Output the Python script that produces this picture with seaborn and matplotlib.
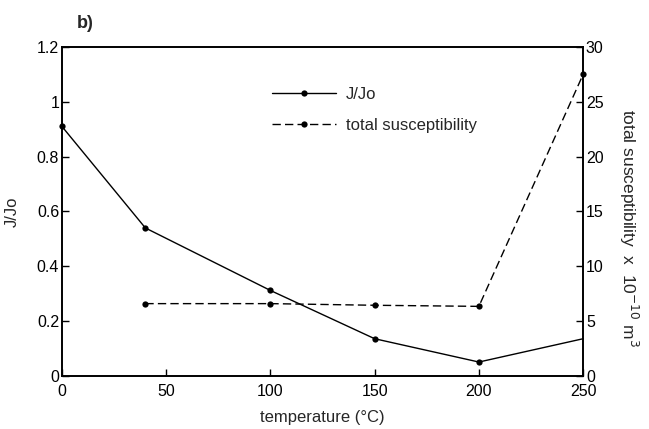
import matplotlib
matplotlib.use("Agg")
import matplotlib.pyplot as plt
import seaborn as sns
import pandas as pd

temp_j = [0, 40, 100, 150, 200, 250]
j_jo = [0.91, 0.54, 0.312, 0.136, 0.051, 0.136]
temp_s = [40, 100, 150, 200, 250]
susc = [6.6, 6.6, 6.45, 6.35, 27.5]

x_ticks = [0, 50, 100, 150, 200, 250]
left_ticks = [0, 0.2, 0.4, 0.6, 0.8, 1.0, 1.2]
left_labels = ["0", "0.2", "0.4", "0.6", "0.8", "1", "1.2"]
right_ticks = [0, 5, 10, 15, 20, 25, 30]

sns.set_theme(style="white")
plt.rcParams["font.family"] = ["Liberation Sans", "DejaVu Sans"]
plt.rcParams["font.size"] = 11

fig = plt.figure(figsize=(6.49, 4.29), dpi=100)
ax = fig.add_axes([0.0955, 0.1235, 0.803, 0.767])
ax2 = ax.twinx()

df_j = pd.DataFrame({"temperature": temp_j, "value": j_jo})
df_s = pd.DataFrame({"temperature": temp_s, "value": susc})

sns.lineplot(data=df_j, x="temperature", y="value", ax=ax, color="black",
             linewidth=1.0, marker="o", markersize=4.5, markeredgewidth=0,
             markevery=[0, 1, 2, 3, 4], label="J/Jo", legend=False, clip_on=False)
sns.lineplot(data=df_s, x="temperature", y="value", ax=ax2, color="black",
             linewidth=1.0, linestyle=(0, (6, 3)), marker="o", markersize=4.5,
             markeredgewidth=0, label="total susceptibility", legend=False, clip_on=False)

ax.set_xlim(0, 250)
ax.set_ylim(0, 1.2)
ax2.set_ylim(0, 30)
ax.set_xticks(x_ticks)
ax.set_xticklabels([str(t) for t in x_ticks])
ax.set_yticks(left_ticks)
ax.set_yticklabels(left_labels)
ax2.set_yticks(right_ticks)
ax2.set_yticklabels([str(t) for t in right_ticks])

for a in (ax, ax2):
    for s in a.spines.values():
        s.set_color("black")
        s.set_linewidth(1.2)
ax.tick_params(axis="both", direction="in", length=5, width=1, colors="black",
               labelsize=11.5, left=True, bottom=True, top=False, right=False)
ax.tick_params(axis="x", pad=6)
ax.tick_params(axis="y", pad=2)
ax2.tick_params(axis="y", direction="in", length=5, width=1, colors="black",
                labelsize=11.5, pad=2, right=True, left=False)

ax.set_xlabel("temperature (°C)", fontsize=12, labelpad=8)
ax.set_ylabel("J/Jo", fontsize=12, labelpad=12)
ax2.set_ylabel("total susceptibility  x  10$^{-10}$ m$^3$", fontsize=12.5,
               rotation=270, labelpad=26)
ax2.yaxis.label.set_y(0.45)

h1, l1 = ax.get_legend_handles_labels()
h2, l2 = ax2.get_legend_handles_labels()
leg = ax2.legend(h1 + h2, l1 + l2, loc="upper left", bbox_to_anchor=(0.375, 0.925),
                 frameon=False, fontsize=12, handlelength=3.8, handletextpad=0.6,
                 labelspacing=1.0)

fig.text(0.118, 0.945, "b)", fontsize=13, fontweight="bold", ha="left", va="center")

fig.savefig("out.png", dpi=100)
